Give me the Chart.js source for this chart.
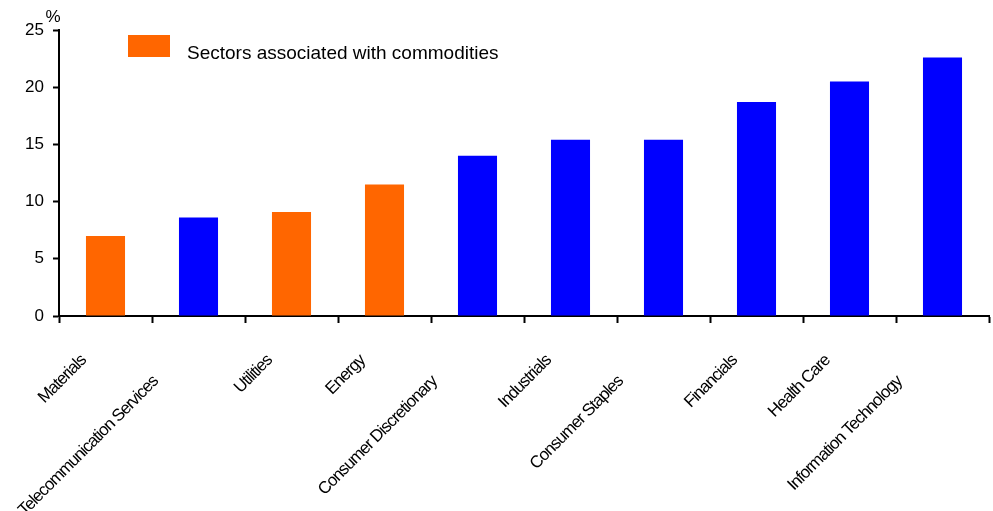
<!DOCTYPE html>
<html>
<head>
<meta charset="utf-8">
<script src="https://cdn.jsdelivr.net/npm/chart.js@4/dist/chart.umd.min.js"></script>
<style>
  html, body { margin: 0; padding: 0; background: #fff; }
  #wrap { width: 993px; height: 511px; }
</style>
</head>
<body>
<div id="wrap"><canvas id="sectors"></canvas></div>
<script>
var sectors = ['Materials', 'Telecommunication Services', 'Utilities', 'Energy',
  'Consumer Discretionary', 'Industrials', 'Consumer Staples', 'Financials',
  'Health Care', 'Information Technology'];
var returns = [7.0, 8.6, 9.1, 11.5, 14.0, 15.4, 15.4, 18.7, 20.5, 22.6];
var commodity = [true, false, true, true, false, false, false, false, false, false];
var yTicks = [0, 5, 10, 15, 20, 25];
var legendText = 'Sectors associated with commodities';

var ORANGE = '#ff6600';
var BLUE = '#0000ff';
var FONT = '"Liberation Sans", Arial, sans-serif';

// labels alternate between a near and a far row so they don't collide
var labelRow = [0, 1, 0, 0, 1, 0, 1, 0, 0, 1];

var decor = {
  id: 'decor',
  afterDraw: function (chart) {
    var ctx = chart.ctx;
    var area = chart.chartArea;
    var x = chart.scales.x;
    ctx.save();

    // unit over the y axis
    ctx.fillStyle = '#000';
    ctx.font = '17px ' + FONT;
    ctx.textAlign = 'center';
    ctx.textBaseline = 'middle';
    ctx.fillText('%', area.left - 6, area.top - 13);

    // legend
    ctx.fillStyle = ORANGE;
    ctx.fillRect(area.left + 69, area.top + 5, 42, 22);
    ctx.fillStyle = '#000';
    ctx.font = '19px ' + FONT;
    ctx.textAlign = 'left';
    ctx.textBaseline = 'alphabetic';
    ctx.fillText(legendText, area.left + 128, area.top + 29);

    // rotated category labels, set tight like the original
    ctx.font = '17px ' + FONT;
    ctx.letterSpacing = '-1px';
    ctx.textAlign = 'right';
    ctx.textBaseline = 'middle';
    for (var i = 0; i < sectors.length; ++i) {
      var px = x.getPixelForValue(i);
      var shift = labelRow[i] ? 21 : 0;
      ctx.save();
      ctx.translate(px - 22 - shift, area.bottom + 42 + shift);
      ctx.rotate(-Math.PI / 4);
      ctx.fillText(sectors[i], 0, 0);
      ctx.restore();
    }
    ctx.restore();
  }
};

new Chart(document.getElementById('sectors'), {
  type: 'bar',
  data: {
    labels: sectors,
    datasets: [{
      data: returns,
      backgroundColor: commodity.map(function (c) { return c ? ORANGE : BLUE; }),
      borderWidth: 0,
      barPercentage: 0.42,
      categoryPercentage: 1,
    }],
  },
  options: {
    responsive: true,
    maintainAspectRatio: false,
    animation: false,
    layout: {
      padding: { top: 30, right: 4, left: 0, bottom: 0 },
    },
    plugins: {
      legend: { display: false },
      tooltip: { enabled: false },
    },
    scales: {
      x: {
        offset: true,
        afterFit: function (scale) { scale.height = 195; },
        border: { color: '#000', width: 2 },
        grid: {
          offset: true,
          drawOnChartArea: false,
          drawTicks: true,
          tickLength: 7,
          tickColor: '#000',
          tickWidth: 2,
        },
        ticks: { display: false },
      },
      y: {
        min: 0,
        max: 25,
        afterFit: function (scale) { scale.width = 59; },
        afterBuildTicks: function (scale) {
          scale.ticks = yTicks.map(function (v) { return { value: v }; });
        },
        border: { color: '#000', width: 2 },
        grid: {
          drawOnChartArea: false,
          drawTicks: true,
          tickLength: 6,
          tickColor: '#000',
          tickWidth: 2,
        },
        ticks: {
          color: '#000',
          padding: 9,
          font: { family: FONT, size: 17 },
        },
      },
    },
  },
  plugins: [decor],
});
</script>
</body>
</html>
